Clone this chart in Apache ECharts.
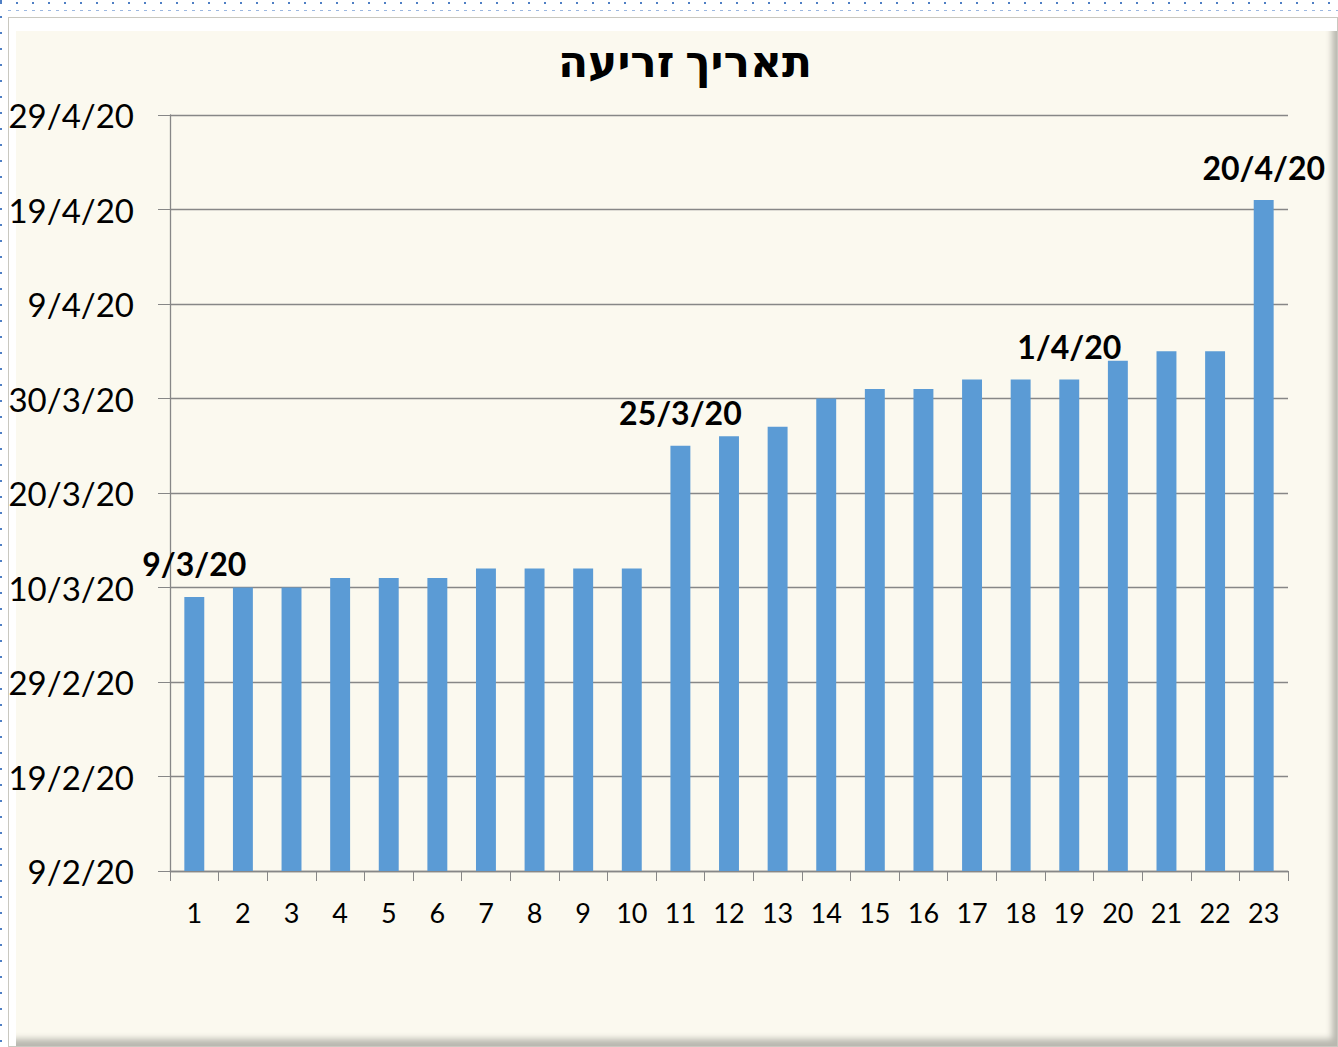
<!DOCTYPE html>
<html>
<head>
<meta charset="utf-8">
<script src="https://cdn.jsdelivr.net/npm/echarts@6/dist/echarts.min.js"></script>
<style>
  html, body { margin: 0; padding: 0; background: #fff; }
  #selTop { position: absolute; left: 0; top: 2px; width: 1338px; height: 2px;
            background: repeating-linear-gradient(90deg, #4f7fc4 0 2px, transparent 2px 16px); }
  #selLeft { position: absolute; left: 0; top: 0; width: 2px; height: 1047px;
             background: repeating-linear-gradient(180deg, #4f7fc4 0 2px, transparent 2px 16px); }
  #selLine { position: absolute; left: 8px; top: 10px; width: 1330px; height: 1px;
             background: repeating-linear-gradient(90deg, #9bb7e0 0 3px, transparent 3px 8px); }
  #frame { position: absolute; left: 8px; top: 17px; width: 1330px; height: 1030px;
           background: #fbf9ef; box-sizing: border-box; border: 1px solid #c9c8c0;
           box-shadow: inset 9px 15px 0 -2px #ffffff, inset -8px -10px 6px -3px #b9b8b0; }
  #chart { position: absolute; left: 0; top: 0; width: 1338px; height: 1047px; }
</style>
</head>
<body>
<div id="selTop"></div>
<div id="selLeft"></div>
<div id="selLine"></div>
<div id="frame"></div>
<div id="chart"></div>
<script>
(function () {
  // ---- data: seeding date per sample ----
  var categories = ['1', '2', '3', '4', '5', '6', '7', '8', '9', '10', '11', '12',
                    '13', '14', '15', '16', '17', '18', '19', '20', '21', '22', '23'];
  var seedDates = ['9/3/20', '10/3/20', '10/3/20', '11/3/20', '11/3/20', '11/3/20',
                   '12/3/20', '12/3/20', '12/3/20', '12/3/20', '25/3/20', '26/3/20',
                   '27/3/20', '30/3/20', '31/3/20', '31/3/20', '1/4/20', '1/4/20',
                   '1/4/20', '3/4/20', '4/4/20', '4/4/20', '20/4/20'];
  var labelledBars = ['1', '11', '19', '23'];
  var axisStart = '9/2/20';
  var axisSpanDays = 80;
  var axisStepDays = 10;
  var title = 'תאריך זריעה';

  var DAY = 864e5;
  function toMs(s) {
    var p = s.split('/');
    return Date.UTC(2000 + Number(p[2]), Number(p[1]) - 1, Number(p[0]));
  }
  var base = toMs(axisStart);
  function toDay(s) { return Math.round((toMs(s) - base) / DAY); }
  function fmt(d) {
    var t = new Date(base + d * DAY);
    return t.getUTCDate() + '/' + (t.getUTCMonth() + 1) + '/' + String(t.getUTCFullYear()).slice(2);
  }

  var values = seedDates.map(function (s, i) {
    return {
      value: toDay(s),
      label: { show: labelledBars.indexOf(categories[i]) >= 0 }
    };
  });

  var font = 'Lato, "DejaVu Sans", sans-serif';
  var gridColor = '#878787';

  var chart = echarts.init(document.getElementById('chart'), null, { renderer: 'svg' });
  chart.setOption({
    animation: false,
    backgroundColor: 'transparent',
    title: {
      text: title, left: 680, top: 33, textAlign: 'center',
      textStyle: { fontFamily: font, fontSize: 44, fontWeight: 'bold', color: '#000' }
    },
    grid: { left: 170, right: 50, top: 115, bottom: 176, containLabel: false },
    xAxis: {
      type: 'category',
      data: categories,
      axisLine: { lineStyle: { color: gridColor, width: 1.3 } },
      axisTick: { show: true, length: 10, alignWithLabel: false, lineStyle: { color: gridColor } },
      axisLabel: { color: '#000', fontFamily: font, fontSize: 27, margin: 28, interval: 0 }
    },
    yAxis: {
      type: 'value',
      min: 0, max: axisSpanDays, interval: axisStepDays,
      axisLine: { show: true, lineStyle: { color: gridColor, width: 1.3 } },
      axisTick: { show: true, length: 12, inside: false, lineStyle: { color: gridColor } },
      axisLabel: { color: '#000', fontFamily: font, fontSize: 33, margin: 36, formatter: fmt },
      splitLine: { lineStyle: { color: gridColor, width: 1.3 } }
    },
    series: [{
      type: 'bar',
      data: values,
      barWidth: '41%',
      itemStyle: { color: '#5b9bd5' },
      label: {
        position: 'top', distance: 17,
        color: '#000', fontFamily: font, fontSize: 32, fontWeight: 'bold',
        formatter: function (p) { return fmt(p.value); }
      }
    }]
  });
})();
</script>
</body>
</html>
